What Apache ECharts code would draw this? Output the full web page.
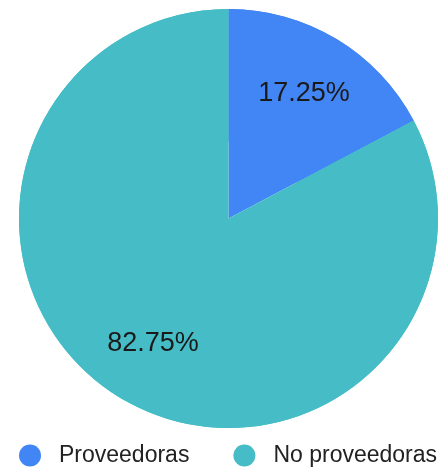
<!DOCTYPE html>
<html>
<head>
<meta charset="utf-8">
<script src="https://cdn.jsdelivr.net/npm/echarts@6/dist/echarts.min.js"></script>
<style>html,body{margin:0;padding:0;background:#fff;}#c{width:443px;height:468px;}</style>
</head>
<body>
<div id="c"></div>
<script>
const categories = ['Proveedoras', 'No proveedoras'];
const values = [17.25, 82.75];
const colors = ['#4285F4', '#46BDC6'];

const data = categories.map((name, i) => ({ name: name, value: values[i], itemStyle: { color: colors[i] } }));
const chart = echarts.init(document.getElementById('c'));
chart.setOption({
  animation: false,
  textStyle: { fontFamily: 'Liberation Sans, Arial, sans-serif' },
  legend: {
    orient: 'horizontal',
    bottom: 1,
    left: 19,
    width: 424,
    padding: 0,
    icon: 'circle',
    itemWidth: 22,
    itemHeight: 22,
    itemGap: 44,
    textStyle: { fontSize: 23, color: '#222', padding: [0, 0, 0, 13], fontFamily: 'Liberation Sans, Arial, sans-serif' },
    data: categories
  },
  series: [
    {
      type: 'pie',
      center: [228.5, 218.5],
      radius: [0, 209.5],
      startAngle: 90,
      clockwise: true,
      silent: true,
      label: { show: false },
      labelLine: { show: false },
      data: data
    },
    {
      type: 'pie',
      center: [228.5, 218.5],
      radius: [77, 209.5],
      startAngle: 90,
      clockwise: true,
      silent: true,
      legendHoverLink: false,
      label: {
        show: true,
        position: 'inside',
        formatter: p => p.value.toFixed(2) + '%',
        fontSize: 27,
        color: '#1a1a1a',
        fontFamily: 'Liberation Sans, Arial, sans-serif'
      },
      labelLine: { show: false },
      data: data
    }
  ]
});
</script>
</body>
</html>
